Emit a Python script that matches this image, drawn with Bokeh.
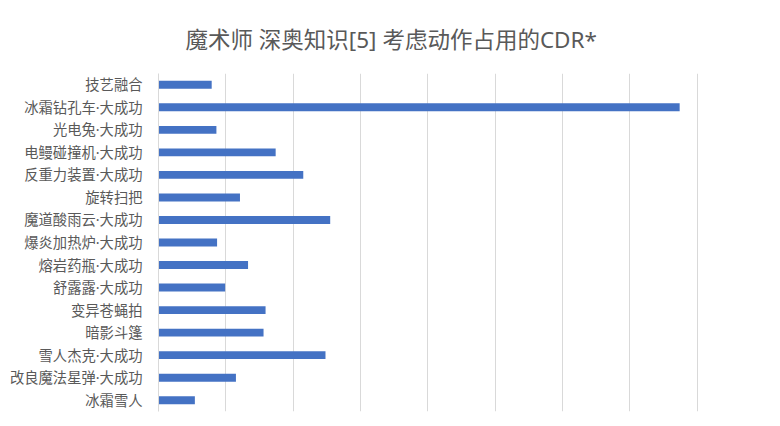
from bokeh.plotting import figure
from bokeh.models import FactorRange, Range1d, FixedTicker
from bokeh.embed import file_html
from bokeh.resources import INLINE

title_text = "魔术师 深奥知识[5] 考虑动作占用的CDR*"
skills = ["技艺融合", "冰霜钻孔车·大成功", "光电兔·大成功", "电鳗碰撞机·大成功",
          "反重力装置·大成功", "旋转扫把", "魔道酸雨云·大成功", "爆炎加热炉·大成功",
          "熔岩药瓶·大成功", "舒露露·大成功", "变异苍蝇拍", "暗影斗篷",
          "雪人杰克·大成功", "改良魔法星弹·大成功", "冰霜雪人"]
cdr = [0.79, 7.74, 0.86, 1.74, 2.15, 1.21, 2.55, 0.87,
       1.33, 0.99, 1.59, 1.56, 2.48, 1.15, 0.54]
x_ticks = list(range(0, 10))

font = "Noto Sans, Noto Sans CJK SC"
grey = "#595959"

p = figure(frame_width=606, frame_height=338, output_backend="svg", toolbar_location=None,
           y_range=FactorRange(factors=list(reversed(skills)), range_padding=0),
           x_range=Range1d(0, 9),
           min_border_left=158, min_border_right=2, min_border_top=73,
           min_border_bottom=1)
p.outline_line_color = None
p.background_fill_color = "white"
p.border_fill_color = "white"

p.hbar(y=skills, right=cdr, left=0, height=0.35, color="#4472C4", line_color=None)

p.xaxis.visible = False
p.xaxis.ticker = FixedTicker(ticks=x_ticks)
p.xgrid.ticker = FixedTicker(ticks=x_ticks)
p.xgrid.grid_line_color = "#D9D9D9"
p.xgrid.grid_line_width = 1
p.ygrid.grid_line_color = None

p.yaxis.axis_line_color = "#D9D9D9"
p.yaxis.major_tick_line_color = None
p.yaxis.minor_tick_line_color = None
p.yaxis.major_label_text_font = font
p.yaxis.major_label_text_font_size = "14.3px"
p.yaxis.major_label_text_color = grey
p.yaxis.major_label_standoff = 10

p.title.text = title_text
p.title.align = "left"
p.title.text_font = font
p.title.text_font_size = "22.5px"
p.title.text_font_style = "normal"
p.title.text_color = grey
p.title.offset = 27
p.title.standoff = 38

open("out.html", "w").write(file_html(p, INLINE))
